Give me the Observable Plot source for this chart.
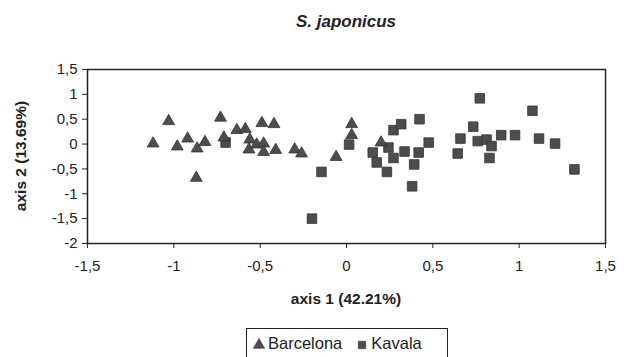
<!DOCTYPE html>
<html>
<head>
<meta charset="utf-8">
<script src="https://cdn.jsdelivr.net/npm/d3@7"></script>
<script src="https://cdn.jsdelivr.net/npm/@observablehq/plot@0.6"></script>
<style>
  html, body { margin: 0; padding: 0; background: #ffffff; }
  #wrap { position: relative; width: 631px; height: 357px; overflow: hidden; font-family: Arial, "Liberation Sans", sans-serif; color: #222; }
  #title { position: absolute; left: 87px; width: 518px; top: 12px; text-align: center; font-size: 17px; font-weight: bold; font-style: italic; }
  #xlabel { position: absolute; left: 87px; width: 518px; top: 290px; text-align: center; font-size: 15.5px; font-weight: bold; }
  #ylabel { position: absolute; left: 21px; top: 156px; transform: translate(-50%, -50%) rotate(-90deg); white-space: nowrap; font-size: 15.5px; font-weight: bold; }
  #legend { position: absolute; left: 246px; top: 328px; width: 202px; height: 30px; border: 1px solid #222; border-bottom: none; box-sizing: border-box; display: flex; align-items: center; padding-left: 6px; font-size: 16.5px; }
  #legend svg { margin-right: 3px; }
  #legend span { margin-right: 14px; }
</style>
</head>
<body>
<div id="wrap">
  <div id="chart"></div>
  <div id="title">S. japonicus</div>
  <div id="xlabel">axis 1 (42.21%)</div>
  <div id="ylabel">axis 2 (13.69%)</div>
  <div id="legend"></div>
</div>
<script>
// Barcelona (triangles)
const barcelonaX = [-1.12, -1.03, -0.98, -0.92, -0.865, -0.82, -0.87, -0.73, -0.71, -0.635, -0.586, -0.56, -0.565, -0.49, -0.42, -0.52, -0.48, -0.48, -0.41, -0.30, -0.26, -0.06, 0.03, 0.03, 0.20];
const barcelonaY = [0.01, 0.46, -0.05, 0.11, -0.09, 0.04, -0.68, 0.53, 0.13, 0.28, 0.30, 0.09, -0.11, 0.42, 0.40, -0.01, 0.01, -0.16, -0.12, -0.11, -0.19, -0.26, 0.40, 0.18, 0.03];
// Kavala (squares)
const kavalaX = [-0.70, -0.20, -0.145, 0.015, 0.152, 0.175, 0.234, 0.243, 0.272, 0.272, 0.317, 0.336, 0.38, 0.392, 0.418, 0.423, 0.476, 0.644, 0.66, 0.734, 0.76, 0.772, 0.811, 0.84, 0.828, 0.896, 0.976, 1.077, 1.115, 1.208, 1.32];
const kavalaY = [0.03, -1.50, -0.56, -0.01, -0.17, -0.37, -0.56, -0.07, -0.28, 0.28, 0.40, -0.15, -0.85, -0.41, -0.17, 0.50, 0.03, -0.19, 0.11, 0.35, 0.06, 0.92, 0.09, -0.04, -0.28, 0.18, 0.18, 0.67, 0.11, 0.01, -0.51];
const xTicks = [-1.5, -1, -0.5, 0, 0.5, 1, 1.5];
const yTicks = [-2, -1.5, -1, -0.5, 0, 0.5, 1, 1.5];
const seriesNames = ["Barcelona", "Kavala"];

const barcelona = barcelonaX.map((x, i) => ({x, y: barcelonaY[i]}));
const kavala = kavalaX.map((x, i) => ({x, y: kavalaY[i]}));
const fmt = d => String(d).replace(".", ",");
const markFill = "#4d4d4d";
const markStroke = "#333333";

const chart = Plot.plot({
  width: 631,
  height: 357,
  marginTop: 69,
  marginBottom: 114,
  marginLeft: 87,
  marginRight: 26,
  style: {fontFamily: "Arial, 'Liberation Sans', sans-serif", fontSize: "15px", color: "#222", background: "transparent"},
  x: {domain: [-1.5, 1.5]},
  y: {domain: [-2, 1.5]},
  marks: [
    Plot.frame({stroke: "#222", strokeWidth: 1.5}),
    Plot.axisX({ticks: xTicks, tickFormat: fmt, tickSize: 5, tickPadding: 12, label: null, fontSize: 15}),
    Plot.axisY({ticks: yTicks, tickFormat: fmt, tickSize: 5, tickPadding: 5, label: null, fontSize: 15}),
    Plot.dot(kavala, {x: "x", y: "y", symbol: "square", r: 5.4, fill: markFill, stroke: markStroke, strokeWidth: 0.8, strokeLinejoin: "round"}),
    Plot.dot(barcelona, {x: "x", y: "y", symbol: "triangle", r: 4.4, fill: markFill, stroke: markStroke, strokeWidth: 0.8})
  ]
});
document.getElementById("chart").appendChild(chart);

const legend = document.getElementById("legend");
const symbols = [d3.symbolTriangle, d3.symbolSquare];
seriesNames.forEach((name, i) => {
  const s = d3.create("svg").attr("width", 12).attr("height", 12);
  s.append("path")
    .attr("transform", "translate(6,7)")
    .attr("d", d3.symbol(symbols[i], i === 0 ? 55 : 55)())
    .attr("fill", markFill).attr("stroke", markStroke).attr("stroke-width", 0.6);
  legend.appendChild(s.node());
  const sp = document.createElement("span");
  sp.textContent = name;
  legend.appendChild(sp);
});
</script>
</body>
</html>
